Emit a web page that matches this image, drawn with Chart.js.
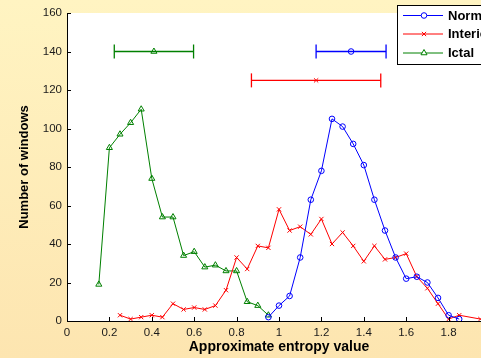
<!DOCTYPE html>
<html>
<head>
<meta charset="utf-8">
<script src="https://cdn.jsdelivr.net/npm/chart.js@4"></script>
<style>
  html, body { margin: 0; padding: 0; overflow: hidden; }
  body { width: 481px; height: 358px; }
  #wrap {
    width: 500px; height: 358px; position: relative;
    background: linear-gradient(to bottom, #fff4c2, #fde5b0);
  }
</style>
</head>
<body>
<div id="wrap"><canvas id="myChart"></canvas></div>
<script>
const ctx = document.getElementById('myChart');

// histogram of ApEn values, one series per class
const normalX = [0.95, 1.0, 1.05, 1.1, 1.15, 1.2, 1.25, 1.3, 1.35, 1.4, 1.45, 1.5, 1.55, 1.6, 1.65, 1.7, 1.75, 1.8, 1.85];
const normalY = [2, 8, 13, 33, 63, 78, 105, 101, 92, 81, 63, 47, 33, 22, 23, 20, 12, 3, 1];

const interX = [0.25, 0.3, 0.35, 0.4, 0.45, 0.5, 0.55, 0.6, 0.65, 0.7, 0.75, 0.8, 0.85, 0.9, 0.95, 1.0, 1.05,
                1.1, 1.15, 1.2, 1.25, 1.3, 1.35, 1.4, 1.45, 1.5, 1.55, 1.6, 1.65, 1.7, 1.75, 1.8, 1.85, 1.95];
const interY = [3, 1, 2, 3, 2, 9, 6, 7, 6, 8, 16, 33, 27, 39, 38, 58, 47,
                49, 45, 53, 40, 46, 39, 31, 39, 32, 33, 35, 23, 17, 9, 1, 3, 1];

const ictalX = [0.15, 0.2, 0.25, 0.3, 0.35, 0.4, 0.45, 0.5, 0.55, 0.6, 0.65, 0.7, 0.75, 0.8, 0.85, 0.9, 0.95];
const ictalY = [19, 90, 97, 103, 110, 74, 54, 54, 34, 36, 28, 29, 26, 26, 10, 8, 3];

// mean +/- std bars drawn above the curves
const classNames = ['Normal', 'Interictal', 'Ictal'];
const classMean = [1.34, 1.175, 0.41];
const classStd = [0.165, 0.305, 0.187];
const barLevel = [140, 125, 140];

const yTicks = [0, 20, 40, 60, 80, 100, 120, 140, 160];
const xTicks = [0, 0.2, 0.4, 0.6, 0.8, 1, 1.2, 1.4, 1.6, 1.8, 2];

const colors = ['#0000ff', '#ff0000', '#008000'];
const markers = ['circle', 'crossRot', 'triangle'];
const markerSize = [2.8, 3, 3.5];
const FONT = '"Liberation Sans", Arial, sans-serif';

function toPoints(xs, ys){
    return xs.map((x, i) => ({x: x, y: ys[i]}));
}

let seriesData = [toPoints(normalX, normalY), toPoints(interX, interY), toPoints(ictalX, ictalY)];
let datasets = [];
seriesData.forEach((pts, i) => {
    datasets.push({
        label: classNames[i],
        data: pts,
        borderColor: colors[i],
        borderWidth: 1,
        pointStyle: markers[i],
        pointRadius: markerSize[i],
        pointBorderColor: colors[i],
        pointBackgroundColor: 'rgba(0,0,0,0)',
        pointBorderWidth: 1,
        tension: 0
    });
});
classNames.forEach((name, i) => {
    let m = classMean[i], s = classStd[i];
    datasets.push({
        label: name + ' std',
        data: [{x: m - s, y: barLevel[i]}, {x: m, y: barLevel[i]}, {x: m + s, y: barLevel[i]}],
        borderColor: colors[i],
        borderWidth: 1.3,
        pointStyle: ['line', markers[i], 'line'],
        rotation: [90, 0, 90],
        pointRadius: [7, markerSize[i], 7],
        pointBorderColor: colors[i],
        pointBackgroundColor: 'rgba(0,0,0,0)',
        pointBorderWidth: [1.3, 1, 1.3]
    });
});

// white plot box, inward ticks, boxed legend
const plotDecor = {
    id: 'plotDecor',
    beforeDraw(chart){
        const a = chart.chartArea;
        const c = chart.ctx;
        c.save();
        c.fillStyle = '#ffffff';
        c.fillRect(a.left, a.top, a.right - a.left, a.bottom - a.top);
        c.restore();
    },
    afterDraw(chart){
        const a = chart.chartArea;
        const c = chart.ctx;
        const xs = chart.scales.x, ys = chart.scales.y;
        c.save();
        c.strokeStyle = '#000';
        c.lineWidth = 1;
        c.beginPath();
        yTicks.forEach(v => {
            let py = Math.round(ys.getPixelForValue(v)) + 0.5;
            c.moveTo(a.left, py);
            c.lineTo(a.left + 4, py);
        });
        xTicks.forEach(v => {
            let px = Math.round(xs.getPixelForValue(v)) + 0.5;
            c.moveTo(px, a.bottom);
            c.lineTo(px, a.bottom - 4);
        });
        c.stroke();

        // legend
        const lx = 397.5, ly = 5.5, lw = 110, lh = 59;
        c.fillStyle = '#fff';
        c.fillRect(lx, ly, lw, lh);
        c.strokeStyle = '#000';
        c.strokeRect(lx, ly, lw, lh);
        const rows = [15.5, 34, 53];
        c.font = 'bold 13px ' + FONT;
        c.textBaseline = 'middle';
        for(let i = 0; i < 3; i++){
            let ds = chart.data.datasets[i];
            c.strokeStyle = ds.borderColor;
            c.beginPath();
            c.moveTo(403, rows[i]);
            c.lineTo(443, rows[i]);
            c.stroke();
            c.fillStyle = '#fff';
            Chart.helpers.drawPoint(c, {
                pointStyle: ds.pointStyle, radius: ds.pointRadius, rotation: 0, borderWidth: 1
            }, 424, rows[i]);
            c.fillStyle = '#000';
            c.fillText(ds.label, 448, rows[i] + 0.5);
        }
        c.restore();
    }
};

let chart = new Chart(ctx, {
    type: 'line',
    data: { datasets: datasets },
    options: {
        responsive: true,
        maintainAspectRatio: false,
        animation: false,
        layout: { padding: { top: 13, right: 9, left: 0, bottom: 0 } },
        plugins: {
            legend: { display: false },
            tooltip: { enabled: false }
        },
        scales: {
            x: {
                type: 'linear',
                min: 0,
                max: 2,
                afterBuildTicks: s => { s.ticks = xTicks.map(v => ({value: v})); },
                afterFit: s => { s.height = 37; },
                grid: { display: false, drawTicks: false, tickLength: 0 },
                border: { display: true, color: '#000', width: 1 },
                ticks: {
                    autoSkip: false,
                    maxRotation: 0,
                    padding: 5,
                    color: '#1a1a1a',
                    font: { family: FONT, size: 11.5 },
                    callback: v => String(+v.toFixed(1))
                },
                title: {
                    display: true,
                    text: 'Approximate entropy value',
                    color: '#000',
                    font: { family: FONT, size: 14, weight: 'bold' },
                    padding: { top: 0, bottom: 2 }
                }
            },
            y: {
                min: 0,
                max: 160,
                afterBuildTicks: s => { s.ticks = yTicks.map(v => ({value: v})); },
                afterFit: s => { s.width = 67; },
                grid: { display: false, drawTicks: false, tickLength: 0 },
                border: { display: true, color: '#000', width: 1 },
                ticks: {
                    padding: 5,
                    color: '#1a1a1a',
                    font: { family: FONT, size: 11.5 }
                },
                title: {
                    display: true,
                    text: 'Number of windows',
                    color: '#000',
                    font: { family: FONT, size: 13, weight: 'bold' },
                    padding: { top: 17, bottom: 0 }
                }
            }
        }
    },
    plugins: [plotDecor]
});
</script>
</body>
</html>
